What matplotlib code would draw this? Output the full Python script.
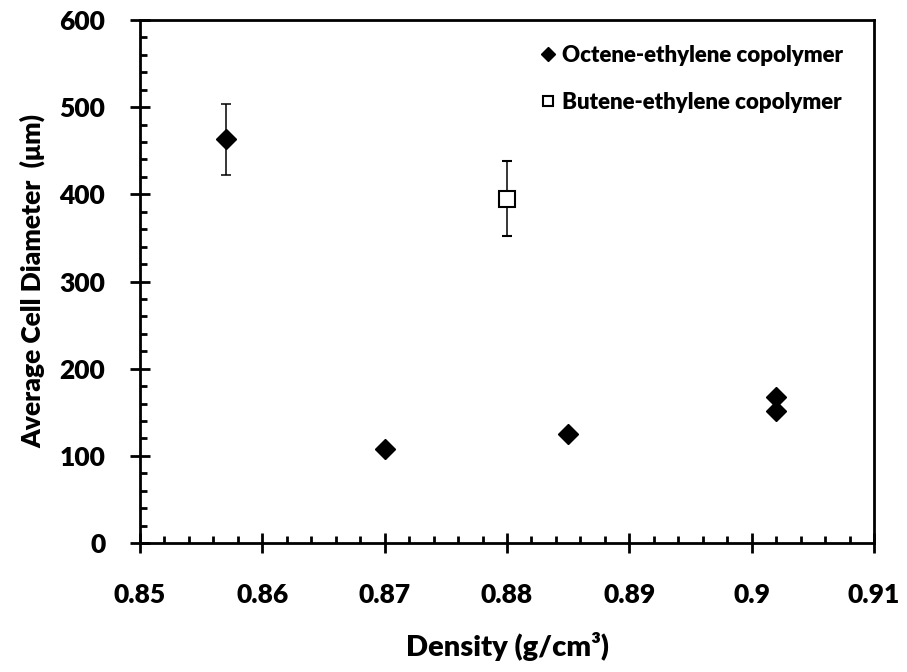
import matplotlib.pyplot as plt
from matplotlib.ticker import MultipleLocator

plt.rcParams['font.family'] = ['Lato', 'DejaVu Sans']
plt.rcParams['font.weight'] = 'heavy'

# octene-ethylene copolymer samples
oct_density = [0.857, 0.870, 0.885, 0.902, 0.902]
oct_diameter = [463, 108, 125, 167, 152]
oct_err = [41, 0, 0, 0, 0]

# butene-ethylene copolymer sample
but_density = [0.880]
but_diameter = [395]
but_err = [43]

fig = plt.figure(figsize=(9.07, 6.72), dpi=100)
ax = fig.add_axes([140 / 907, 1 - 543 / 672, 734 / 907, 523 / 672])

ax.errorbar(oct_density, oct_diameter, yerr=oct_err, fmt='D', color='black',
            markersize=10, ecolor='black', elinewidth=1.1, capsize=3.5, capthick=1.1,
            label='Octene-ethylene copolymer')
ax.errorbar(but_density, but_diameter, yerr=but_err, fmt='s', mfc='white', mec='black',
            mew=1.5, markersize=11, ecolor='black', elinewidth=1.1, capsize=3.5, capthick=1.1,
            label='Butene-ethylene copolymer')

ax.set_xlim(0.85, 0.91)
ax.set_ylim(0, 600)
ax.xaxis.set_minor_locator(MultipleLocator(0.002))
ax.yaxis.set_major_locator(MultipleLocator(100))
ax.yaxis.set_minor_locator(MultipleLocator(20))
ax.set_xticks([0.85, 0.86, 0.87, 0.88, 0.89, 0.90, 0.91])
ax.set_xticklabels(['0.85', '0.86', '0.87', '0.88', '0.89', '0.9', '0.91'])

for s in ax.spines.values():
    s.set_linewidth(2)
ax.tick_params(which='major', direction='inout', length=14, width=2, labelsize=19)
ax.tick_params(which='minor', direction='in', length=5, width=2)
ax.tick_params(axis='x', which='major', pad=22)
ax.tick_params(axis='y', which='major', pad=18)

ax.set_xlabel('Density (g/cm³)', fontsize=21, fontweight='heavy', labelpad=18)
ax.set_ylabel('Average Cell Diameter  (μm)', fontsize=19, fontweight='heavy', labelpad=10)

h, l = ax.get_legend_handles_labels()
ax.legend([x[0] for x in h], l, loc='upper right', frameon=False, fontsize=16,
          handletextpad=0.1, handlelength=1.1, labelspacing=1.15, markerscale=0.7,
          bbox_to_anchor=(0.985, 0.99))

fig.savefig('out.png', dpi=100)
